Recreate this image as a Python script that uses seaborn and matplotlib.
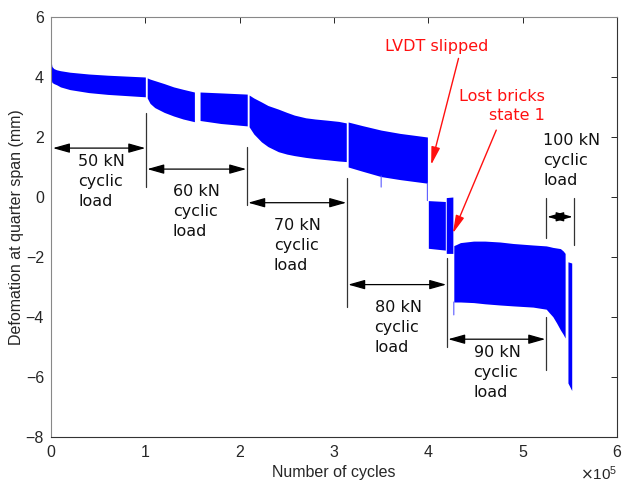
import numpy as np
import pandas as pd
import matplotlib
matplotlib.use('Agg')
import matplotlib.pyplot as plt
import seaborn as sns

# Obwiednie sygnału cyklicznego (x w 1e5 cykli, górna i dolna granica w mm)
seg_x = [
    [0.0, 0.005, 0.01, 0.03, 0.06, 0.1, 0.2, 0.4, 0.6, 0.8, 1.0],
    [1.02, 1.05, 1.1, 1.2, 1.3, 1.4, 1.52],
    [1.58, 1.8, 2.08],
    [2.10, 2.15, 2.23, 2.3, 2.41, 2.5, 2.58, 2.7, 2.8, 2.93, 3.05, 3.13],
    [3.15, 3.3, 3.5, 3.7, 3.99],
    [4.00, 4.18],
    [4.19, 4.26],
    [4.27, 4.3, 4.34, 4.48, 4.6, 4.76, 4.9, 5.11, 5.25, 5.28, 5.32, 5.36, 5.40, 5.43, 5.45],
    [5.48, 5.52],
]
seg_upper = [
    [4.63, 4.45, 4.35, 4.28, 4.24, 4.21, 4.16, 4.1, 4.06, 4.03, 4.0],
    [3.97, 3.93, 3.88, 3.78, 3.67, 3.59, 3.5],
    [3.5, 3.47, 3.43],
    [3.4, 3.3, 3.17, 3.05, 2.93, 2.82, 2.73, 2.64, 2.6, 2.56, 2.52, 2.47],
    [2.5, 2.38, 2.23, 2.12, 2.0],
    [-0.12, -0.15],
    [-0.02, 0.0],
    [-1.62, -1.58, -1.52, -1.47, -1.47, -1.5, -1.55, -1.6, -1.63, -1.65, -1.68, -1.7, -1.72, -1.8, -1.88],
    [-2.16, -2.2],
]
seg_lower = [
    [3.92, 3.88, 3.82, 3.78, 3.74, 3.67, 3.58, 3.48, 3.42, 3.38, 3.34],
    [3.3, 3.12, 2.98, 2.82, 2.7, 2.6, 2.51],
    [2.55, 2.45, 2.37],
    [2.34, 2.1, 1.84, 1.68, 1.51, 1.43, 1.38, 1.32, 1.28, 1.24, 1.2, 1.18],
    [1.0, 0.86, 0.68, 0.58, 0.46],
    [-1.71, -1.77],
    [-1.88, -1.88],
    [-3.5, -3.5, -3.5, -3.52, -3.56, -3.6, -3.63, -3.67, -3.74, -3.85, -3.99, -4.2, -4.43, -4.58, -4.7],
    [-6.2, -6.45],
]

# Pojedyncze piki / linie łączące (x, y_od, y_do)
spikes = [(3.5, 0.7, 0.33), (4.27, -3.5, -3.93), (3.99, 0.46, -0.12), (1.55, 3.26, 3.26)]

# Etapy obciążenia: strzałki (y, x_od, x_do) i linie pionowe (x, y_od, y_do)
load_labels = ['50 kN\ncyclic\nload', '60 kN\ncyclic\nload', '70 kN\ncyclic\nload',
               '80 kN\ncyclic\nload', '90 kN\ncyclic\nload', '100 kN\ncyclic\nload']
arrow_y = [1.63, 0.93, -0.19, -2.92, -4.74, -0.66]
arrow_x0 = [0.02, 1.02, 2.09, 3.15, 4.21, 5.26]
arrow_x1 = [1.00, 2.07, 3.13, 4.19, 5.24, 5.53]
label_x = [0.29, 1.29, 2.36, 3.43, 4.48, 5.22]
label_y = [1.45, 0.42, -0.7, -3.42, -4.92, 2.14]
vlines = [(1.01, 2.79, 0.34), (2.08, 1.68, -0.27), (3.14, 0.62, -3.67),
          (4.20, -2.04, -4.99), (5.25, -3.99, -5.77), (5.25, -0.04, -1.38),
          (5.54, -0.04, -1.6)]

sns.set_theme(style='white')
plt.rcParams['font.family'] = ['Liberation Sans', 'DejaVu Sans']

fig = plt.figure(figsize=(6.23, 4.83), dpi=100)
ax = fig.add_axes([51 / 623, 46 / 483, 566 / 623, 420 / 483])

for xs, up, lo in zip(seg_x, seg_upper, seg_lower):
    ax.fill_between(np.array(xs) * 1e5, lo, up, color='#0000ff', linewidth=0)

for x, y0, y1 in spikes:
    sns.lineplot(x=[x * 1e5, x * 1e5 + 1], y=[y0, y1], ax=ax, color='#5a5aff', lw=0.8)

for x, y0, y1 in vlines:
    ax.plot([x * 1e5, x * 1e5], [y0, y1], color='#333333', lw=0.9)

for lab, y, x0, x1, lx, ly in zip(load_labels, arrow_y, arrow_x0, arrow_x1, label_x, label_y):
    ax.annotate('', xy=(x1 * 1e5, y), xytext=(x0 * 1e5, y),
                arrowprops=dict(arrowstyle='<|-|>,head_length=0.85,head_width=0.24',
                                color='black', lw=0.9, shrinkA=0, shrinkB=0))
    ax.text(lx * 1e5, ly, lab, ha='left', va='top', fontsize=11.5,
            family='DejaVu Sans', color='#111111', linespacing=1.42)

# Czerwone adnotacje
ax.text(4.09e5, 5.28, 'LVDT slipped', ha='center', va='top', fontsize=11.5,
        family='DejaVu Sans', color='#ff1010')
ax.text(5.24e5, 3.6, 'Lost bricks\nstate 1', ha='right', va='top', fontsize=11.5,
        family='DejaVu Sans', color='#ff1010', multialignment='right', linespacing=1.35)
ax.annotate('', xy=(4.03e5, 1.07), xytext=(4.32e5, 4.62),
            arrowprops=dict(arrowstyle='-|>,head_length=0.9,head_width=0.22',
                            color='#ff1010', lw=1.0, shrinkA=0, shrinkB=0))
ax.annotate('', xy=(4.26e5, -1.21), xytext=(4.72e5, 2.23),
            arrowprops=dict(arrowstyle='-|>,head_length=0.9,head_width=0.22',
                            color='#ff1010', lw=1.0, shrinkA=0, shrinkB=0))

ax.set_xlim(0, 6e5)
ax.set_ylim(-8, 6)
ax.set_xticks(np.arange(0, 7) * 1e5)
ax.set_yticks(np.arange(-8, 7, 2))
ax.ticklabel_format(style='sci', axis='x', scilimits=(5, 5), useMathText=True)
ax.xaxis.get_offset_text().set_fontsize(11)
ax.xaxis.get_offset_text().set_color('#262626')
ax.tick_params(direction='in', top=True, right=True, length=4, width=0.7,
               labelsize=11.5, colors='#262626', pad=5)
for side in ['left', 'top']:
    ax.spines[side].set_color('#888888')
for side in ['right', 'bottom']:
    ax.spines[side].set_color('#333333')
for s in ax.spines.values():
    s.set_linewidth(0.8)

ax.set_xlabel('Number of cycles', fontsize=11.5, color='#262626', labelpad=4)
ax.set_ylabel('Defomation at quarter span (mm)', fontsize=11.5, color='#262626', labelpad=1)

fig.savefig('out.png', dpi=100)
